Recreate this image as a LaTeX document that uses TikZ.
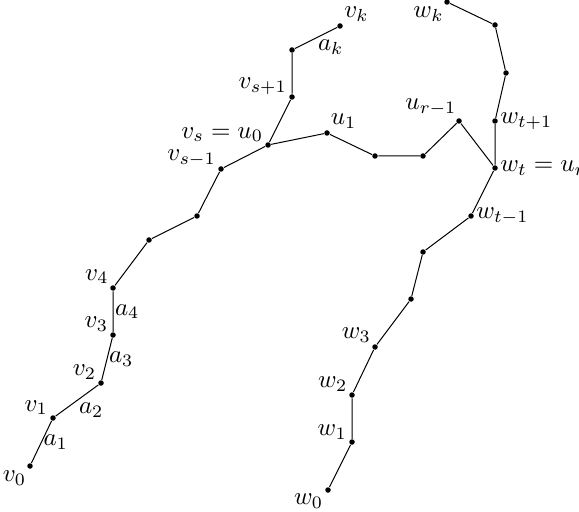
\documentclass[tikz,border=0pt]{standalone}
\usepackage{amsmath}
\usetikzlibrary{calc}

\begin{document}
\begin{tikzpicture}[x=0.40pt,y=-0.40pt,
  pt/.style={circle,fill,inner sep=0pt,minimum size=2.2pt},
  lbl/.style={inner sep=0.6pt}]
  \clip (0,0) rectangle (579,512);

  \node[pt,label={[lbl]235:$v_0$}] (v0) at (30,466) {};
  \node[pt,label={[lbl]160:$v_1$}] (v1) at (53,418) {};
  \node[pt,label={[lbl]150:$v_2$}] (v2) at (101,383) {};
  \node[pt,label={[lbl]155:$v_3$}] (v3) at (113,335) {};
  \node[pt,label={[lbl]140:$v_4$}] (v4) at (113,288) {};
  \node[pt] (v5) at (149,240) {};
  \node[pt] (v6) at (197,216) {};
  \node[pt,label={[lbl]172:$v_{s-1}$}] (vsm) at (221,169) {};
  \node[pt,label={[lbl]158:$v_s=u_0$}] (vs) at (268,145) {};
  \node[pt,label={[lbl]172:$v_{s+1}$}] (vsp) at (292,97) {};
  \node[pt] (vkm) at (292,50) {};
  \node[pt,label={[lbl]45:$v_k$}] (vk) at (340,26) {};

  \node[pt,label={[lbl]55:$u_1$}] (u1) at (327,133) {};
  \node[pt] (u2) at (375,156) {};
  \node[pt] (u3) at (423,156) {};
  \node[pt,label={[lbl]100:$u_{r-1}$}] (urm) at (459,121) {};

  \node[pt,label={[lbl]210:$w_0$}] (w0) at (328,490) {};
  \node[pt,label={[lbl]170:$w_1$}] (w1) at (352,442) {};
  \node[pt,label={[lbl]148:$w_2$}] (w2) at (352,395) {};
  \node[pt,label={[lbl]130:$w_3$}] (w3) at (375,347) {};
  \node[pt] (w4) at (411,299) {};
  \node[pt] (w5) at (423,252) {};
  \node[pt,label={[lbl]0:$w_{t-1}$}] (wtm) at (471,216) {};
  \node[pt,label={[lbl]0:$w_t=u_r$}] (wt) at (495,168) {};
  \node[pt,label={[lbl]0:$w_{t+1}$}] (wtp) at (495,121) {};
  \node[pt] (w6) at (506,73) {};
  \node[pt] (w7) at (495,25) {};
  \node[pt,label={[lbl]245:$w_k$}] (wk) at (447,2) {};

  \draw (v0) -- node[lbl,right] {$a_1$} (v1) -- node[lbl,below right] {$a_2$} (v2)
    -- node[lbl,right] {$a_3$} (v3) -- node[lbl,right] {$a_4$} (v4) -- (v5) -- (v6)
    -- (vsm) -- (vs) -- (vsp) -- (vkm) -- node[lbl,below right] {$a_k$} (vk);
  \draw (vs) -- (u1) -- (u2) -- (u3) -- (urm) -- (wt);
  \draw (w0) -- (w1) -- (w2) -- (w3) -- (w4) -- (w5) -- (wtm) -- (wt) -- (wtp)
    -- (w6) -- (w7) -- (wk);
\end{tikzpicture}
\end{document}
